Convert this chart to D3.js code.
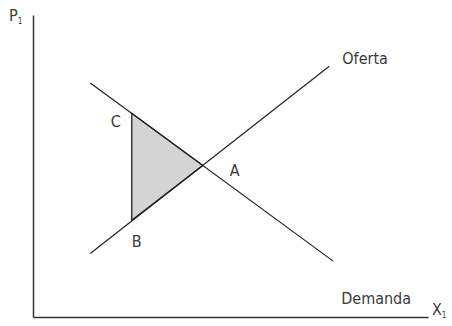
<!DOCTYPE html>
<html>
<head>
<meta charset="utf-8">
<script src="https://cdn.jsdelivr.net/npm/d3@7"></script>
<style>
  body { margin: 0; background: #fff; }
  text { font-family: "Liberation Sans Narrow", "DejaVu Sans Condensed", "Open Sans", sans-serif; fill: #3a3a3a; }
</style>
</head>
<body>
<svg width="452" height="326"></svg>
<script>
// curve endpoints in quantity / price units
const supply = [{ q: 1.45, p: 2.1 }, { q: 7.5, p: 8.3 }];
const demand = [{ q: 1.45, p: 7.75 }, { q: 7.6, p: 1.85 }];
const surplus = [
  { name: 'C', q: 2.5, p: 6.75 },
  { name: 'A', q: 4.3, p: 5.02 },
  { name: 'B', q: 2.5, p: 3.2 }
];
const curveLabels = ['Oferta', 'Demanda'];
const axisLabels = ['X', 'P'];

const svg = d3.select('svg');
const width = +svg.attr('width');
const height = +svg.attr('height');

const margin = { top: 15, right: 24, bottom: 9, left: 33 };
const innerWidth = width - margin.left - margin.right;
const innerHeight = height - margin.top - margin.bottom;

const xScale = d3.scaleLinear().domain([0, 10]).range([0, innerWidth]);
const yScale = d3.scaleLinear().domain([0, 10]).range([innerHeight, 0]);

const g = svg.append('g')
  .attr('transform', `translate(${margin.left}, ${margin.top})`);

const line = d3.line()
  .x(d => xScale(d.q))
  .y(d => yScale(d.p));

// shaded triangle
g.append('path')
  .attr('d', line(surplus) + 'Z')
  .attr('fill', '#d4d4d4')
  .attr('stroke', '#222')
  .attr('stroke-width', 1.3);

g.append('path')
  .attr('d', line(supply))
  .attr('fill', 'none')
  .attr('stroke', '#222')
  .attr('stroke-width', 1.2);

g.append('path')
  .attr('d', line(demand))
  .attr('fill', 'none')
  .attr('stroke', '#222')
  .attr('stroke-width', 1.2);

// axes
const xAxis = d3.axisBottom(xScale).ticks(0).tickSize(0);
const yAxis = d3.axisLeft(yScale).ticks(0).tickSize(0);

const xAxisGroup = g.append('g')
  .attr('transform', `translate(0, ${innerHeight})`)
  .call(xAxis);
const yAxisGroup = g.append('g').call(yAxis);

[xAxisGroup, yAxisGroup].forEach(ax => {
  ax.select('.domain').attr('stroke', '#333').attr('stroke-width', 1.5);
});

// axis labels with subscript 1
const xl = g.append('text')
  .attr('x', innerWidth + 4)
  .attr('y', innerHeight - 2)
  .style('font-size', '16px');
xl.append('tspan').text(axisLabels[0]);
xl.append('tspan').attr('dy', 3).style('font-size', '8px').text('1');

const yl = g.append('text')
  .attr('x', -24)
  .attr('y', 6)
  .style('font-size', '16px');
yl.append('tspan').text(axisLabels[1]);
yl.append('tspan').attr('dy', 3).style('font-size', '8px').text('1');

// curve labels
g.append('text')
  .attr('x', xScale(supply[1].q) + 13)
  .attr('y', yScale(supply[1].p) - 2)
  .style('font-size', '16px')
  .text(curveLabels[0]);

g.append('text')
  .attr('x', xScale(demand[1].q) + 8)
  .attr('y', yScale(demand[1].p) + 43)
  .style('font-size', '16px')
  .text(curveLabels[1]);

// point labels
const offsets = { C: [-21, 14], A: [27, 11], B: [0, 27] };
g.selectAll('.pt-label')
  .data(surplus)
  .enter().append('text')
  .attr('class', 'pt-label')
  .attr('x', d => xScale(d.q) + offsets[d.name][0])
  .attr('y', d => yScale(d.p) + offsets[d.name][1])
  .style('font-size', '16px')
  .text(d => d.name);
</script>
</body>
</html>
